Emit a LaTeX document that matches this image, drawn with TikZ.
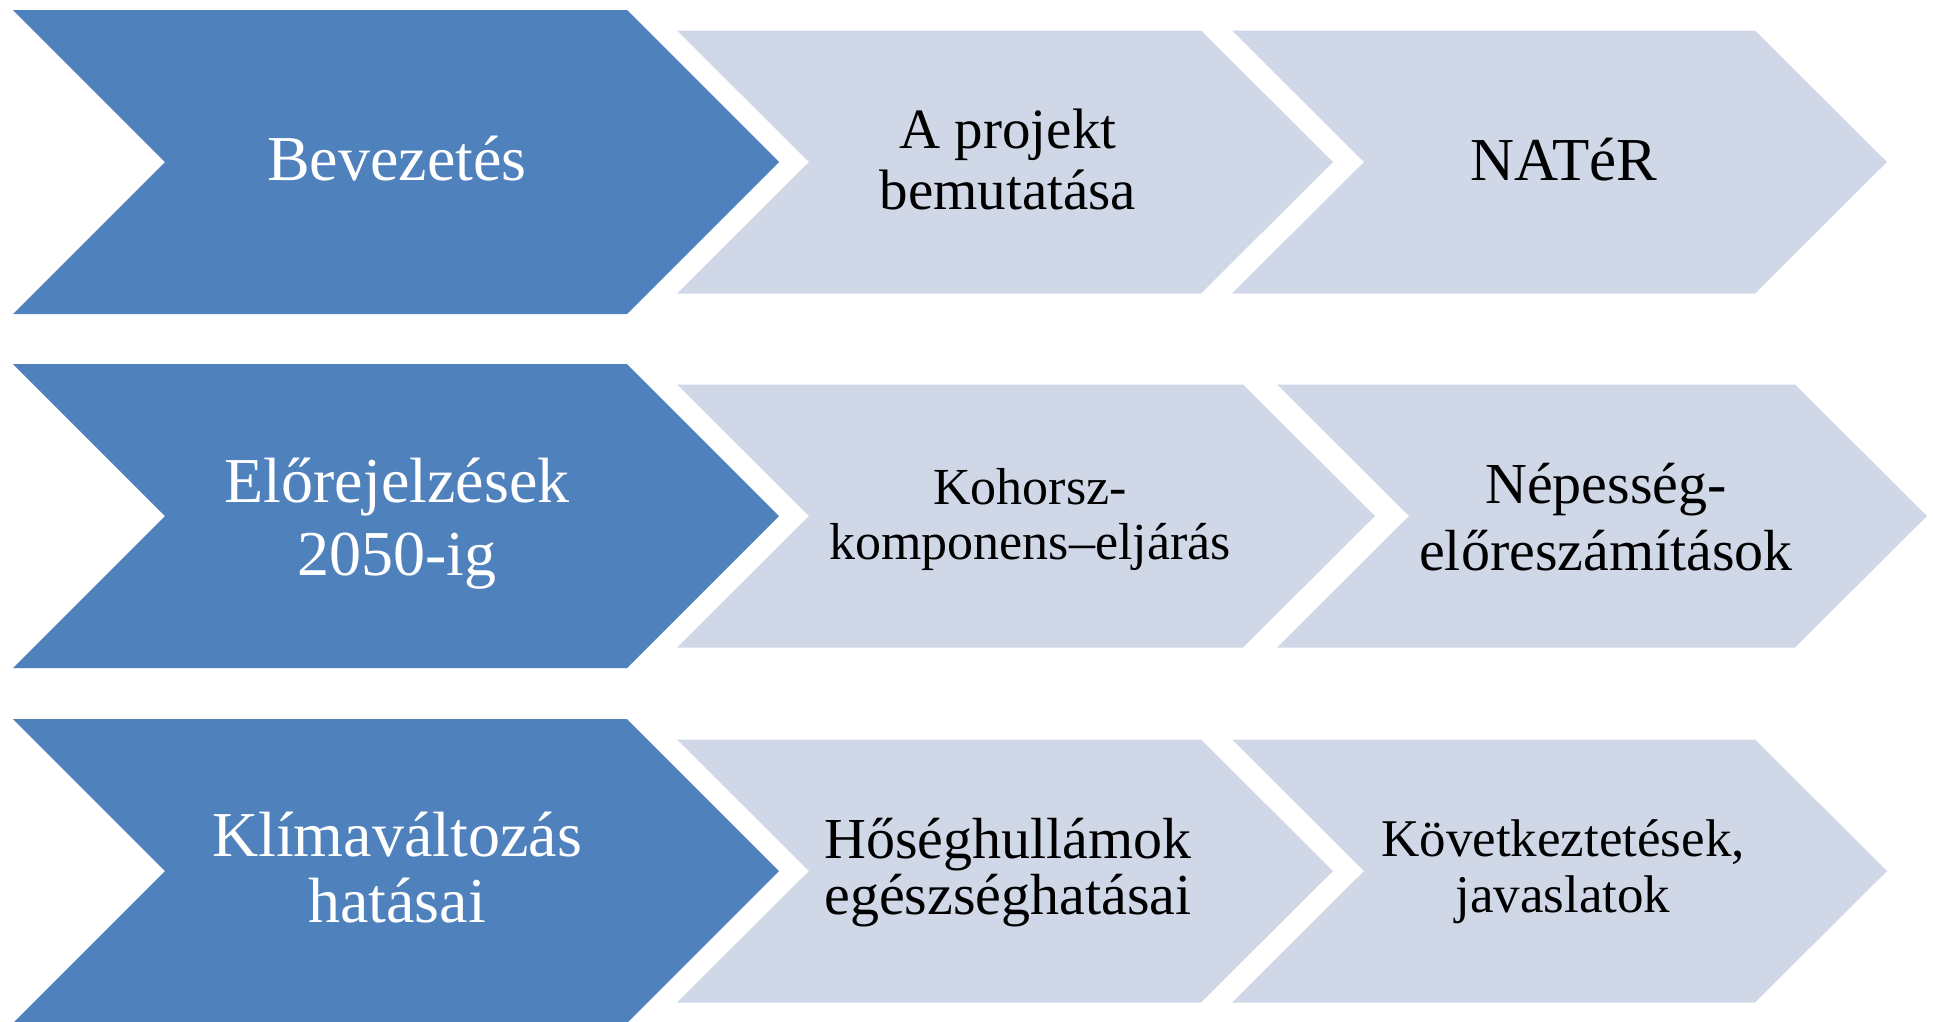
\documentclass[tikz,border=0pt]{standalone}
\usepackage{fontspec}
\setmainfont{Liberation Serif}
\definecolor{mainblue}{HTML}{4F81BD}
\definecolor{paleblue}{HTML}{D0D8E8}

\begin{document}
\begin{tikzpicture}
        [x=1pt,y=-1pt,every node/.style={align=center,inner sep=0},
         lead/.style={fill=mainblue},
         part/.style={fill=paleblue},
         leadtext/.style={text=white,font=\fontsize{64}{#1}\selectfont},
         parttext/.style={text=black}]

        \useasboundingbox (0,0) rectangle (1933,1021);

        \fill[lead] (13,10) -- (627,10) -- (779,162) -- (627,314) -- (13,314) -- (165,162) -- cycle;
        \fill[part] (677,30.5) -- (1201,30.5) -- (1333,162) -- (1201,293.5) -- (677,293.5) -- (809,162) -- cycle;
        \fill[part] (1232,30.5) -- (1755,30.5) -- (1887,162) -- (1755,293.5) -- (1232,293.5) -- (1364,162) -- cycle;

        \fill[lead] (13,364) -- (627,364) -- (779,516) -- (627,668) -- (13,668) -- (165,516) -- cycle;
        \fill[part] (677,384.5) -- (1243,384.5) -- (1375,516) -- (1243,647.5) -- (677,647.5) -- (809,516) -- cycle;
        \fill[part] (1277,384.5) -- (1795,384.5) -- (1927,516) -- (1795,647.5) -- (1277,647.5) -- (1409,516) -- cycle;

        \fill[lead] (13,719) -- (627,719) -- (779,871) -- (627,1023) -- (13,1023) -- (165,871) -- cycle;
        \fill[part] (677,739.5) -- (1201,739.5) -- (1333,871) -- (1201,1002.5) -- (677,1002.5) -- (809,871) -- cycle;
        \fill[part] (1232,739.5) -- (1755,739.5) -- (1887,871) -- (1755,1002.5) -- (1232,1002.5) -- (1364,871) -- cycle;

        \node[leadtext=66] (1) at (397, 158.5) {Bevezetés};
        \node[parttext,font=\fontsize{57}{61}\selectfont] (2) at (1008, 159) {A projekt\\bemutatása};
        \node[parttext,font=\fontsize{61}{66}\selectfont] (3) at (1564, 160) {NATéR};

        \node[leadtext=73] (4) at (397, 524) {Előrejelzések\\2050-ig};
        \node[parttext,font=\fontsize{52}{55}\selectfont] (5) at (1030, 519) {Kohorsz-\\komponens–eljárás};
        \node[parttext,font=\fontsize{58}{67}\selectfont] (6) at (1606, 517.5) {Népesség-\\előreszámítások};

        \node[leadtext=66] (7) at (397, 867.5) {Klímaváltozás\\hatásai};
        \node[parttext,font=\fontsize{58}{56}\selectfont] (8) at (1008, 872.5) {Hőséghullámok\\egészséghatásai};
        \node[parttext,font=\fontsize{53}{56}\selectfont] (9) at (1563, 872) {Következtetések,\\javaslatok};
      \end{tikzpicture}
\end{document}
